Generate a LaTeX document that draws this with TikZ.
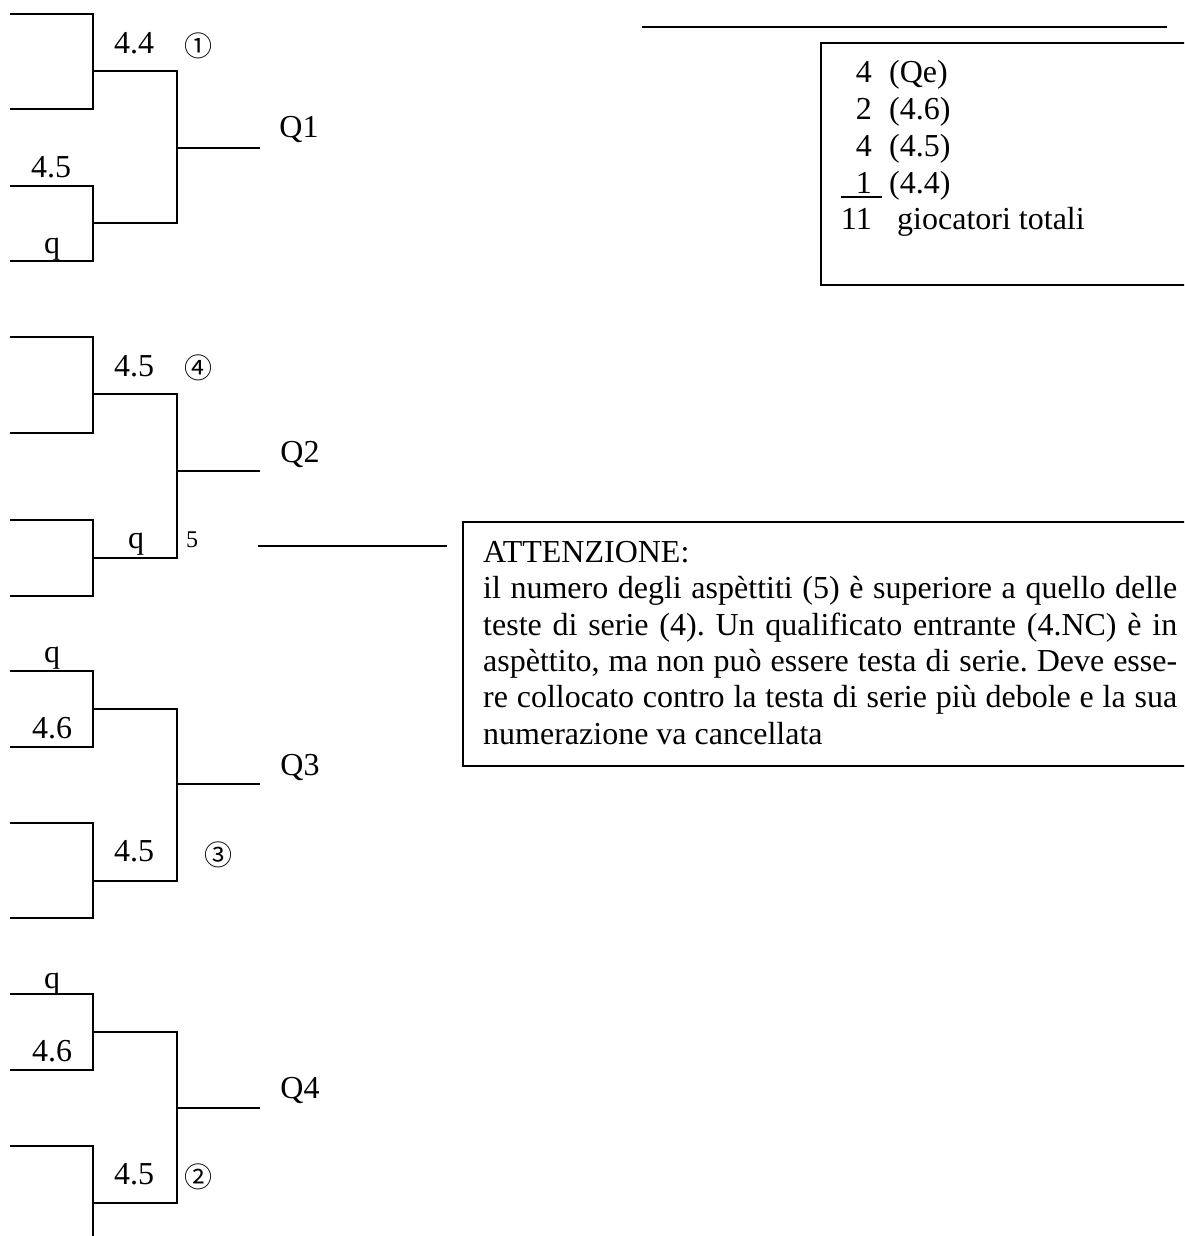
\documentclass[tikz,border=0pt]{standalone}
\usepackage{fontspec}
\setmainfont{Liberation Serif}
\newfontfamily\circfont{Noto Sans CJK JP}
\frenchspacing
\begin{document}
\begin{tikzpicture}[x=1pt,y=-1pt,
  wire/.style={line width=2pt, line join=miter},
  frame/.style={line width=1.6pt},
  lbl/.style={inner sep=0pt, anchor=base, font=\fontsize{32}{36}\selectfont},
  lblw/.style={inner sep=0pt, anchor=base west, font=\fontsize{32}{36}\selectfont},
  lble/.style={inner sep=0pt, anchor=base east, font=\fontsize{32}{36}\selectfont},
  seed/.style={inner sep=0pt, anchor=center, font=\circfont\fontsize{28}{30}\selectfont},
  small/.style={inner sep=0pt, anchor=base, font=\fontsize{24}{26}\selectfont}]
\useasboundingbox (0,0) rectangle (1184,1236);
\clip (0,0) rectangle (1184,1236);

% four qualifying brackets:
% name / upper pair top / upper pair bottom / upper join /
%        lower pair top / lower pair bottom / lower join / exit line
\foreach \n/\ua/\ub/\uj/\la/\lb/\lj/\o in
   {1/14/109/71/186/261/223/148,
    2/337/433/394/520/596/558/471,
    3/671/747/709/823/918/881/784,
    4/994/1070/1032/1146/1250/1203/1108}{
  \coordinate (u\n a) at (10,\ua);  \coordinate (u\n b) at (10,\ub);
  \coordinate (l\n a) at (10,\la);  \coordinate (l\n b) at (10,\lb);
  \coordinate (uj\n) at (93,\uj);   \coordinate (lj\n) at (93,\lj);
  \coordinate (ex\n) at (177,\o);   \coordinate (q\n) at (260,\o);
  \draw[wire] (u\n a) -- (93,\ua) -- (93,\ub) -- (u\n b);
  \draw[wire] (l\n a) -- (93,\la) -- (93,\lb) -- (l\n b);
  \draw[wire] (uj\n) -- (177,\uj) -- (177,\lj) -- (lj\n);
  \draw[wire] (ex\n) -- (q\n);
}

% bracket 1
\node[lbl] (t11) at (134,54) {4.4};
\node[seed] (s1) at (198,46) {①};
\node[lbl] (Q1) at (299,138) {Q1};
\node[lbl] (t12) at (51,177) {4.5};
\node[lbl] (t13) at (52,253) {q};

% bracket 2
\node[lbl] (t21) at (134,376) {4.5};
\node[seed] (s4) at (198,368) {④};
\node[lbl] (Q2) at (300,462) {Q2};
\node[lbl] (t22) at (136,548) {q};
\node[small] (five) at (192,547) {5};

% bracket 3
\node[lbl] (t31) at (52,662) {q};
\node[lbl] (t32) at (52,738) {4.6};
\node[lbl] (Q3) at (300,775) {Q3};
\node[lbl] (t33) at (134,861) {4.5};
\node[seed] (s3) at (218,855) {③};

% bracket 4
\node[lbl] (t41) at (52,988) {q};
\node[lbl] (t42) at (52,1061) {4.6};
\node[lbl] (Q4) at (300,1098) {Q4};
\node[lbl] (t43) at (134,1184) {4.5};
\node[seed] (s2) at (198,1177) {②};

% player count
\coordinate (topL) at (642,27);
\coordinate (topR) at (1167,27);
\draw[wire] (topL) -- (topR);
\draw[frame] (1200,43) -- (821,43) -- (821,285) -- (1200,285);
\node[lble] (n1) at (872,83) {4};
\node[lblw] (c1) at (889,83) {(Qe)};
\node[lble] (n2) at (872,119.7) {2};
\node[lblw] (c2) at (889,119.7) {(4.6)};
\node[lble] (n3) at (872,156.4) {4};
\node[lblw] (c3) at (889,156.4) {(4.5)};
\node[lble] (n4) at (872,193) {1};
\node[lblw] (c4) at (889,193) {(4.4)};
\coordinate (sumL) at (841,197);
\coordinate (sumR) at (882,197);
\draw[line width=1.8pt] (sumL) -- (sumR);
\node[lble] (n5) at (872,229.8) {11};
\node[lblw] (c5) at (897,229.8) {giocatori totali};

% note on the surplus of byes
\coordinate (noteL) at (258,546);
\coordinate (noteR) at (447,546);
\draw[wire] (noteL) -- (noteR);
\draw[frame] (1200,522) -- (463,522) -- (463,766) -- (1200,766);
\node[lblw] (a1) at (483,562.5) {ATTENZIONE:};
\node[lblw] (a2) at (483,598.8) {\makebox[694pt][s]{il numero degli aspèttiti (5) è superiore a quello delle}};
\node[lblw] (a3) at (483,635) {\makebox[694pt][s]{teste di serie (4). Un qualificato entrante (4.NC) è in}};
\node[lblw] (a4) at (483,671.4) {\makebox[694pt][s]{aspèttito, ma non può essere testa di serie. Deve esse-}};
\node[lblw] (a5) at (483,707.7) {\makebox[694pt][s]{re collocato contro la testa di serie più debole e la sua}};
\node[lblw] (a6) at (483,744) {numerazione va cancellata};
\end{tikzpicture}
\end{document}
